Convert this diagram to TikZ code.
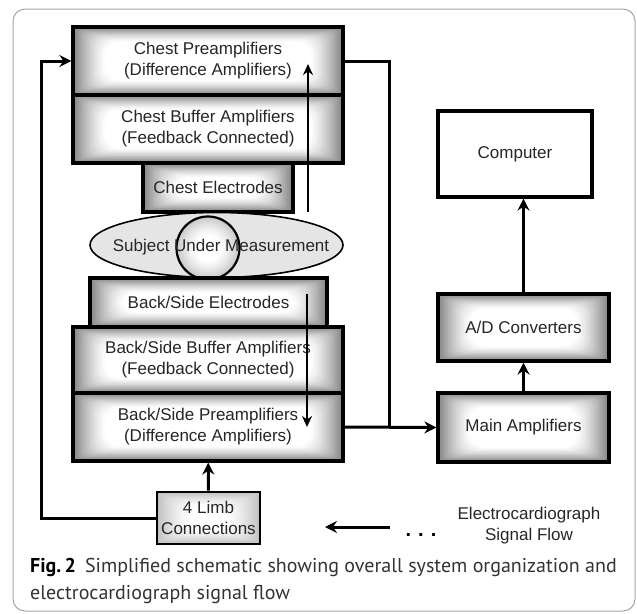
\documentclass[tikz,border=0pt]{standalone}
\usepackage{fontspec}
\setmainfont{Liberation Sans}
\newfontfamily\capfont{PT Sans}
\usepackage{xcolor}
\usetikzlibrary{shapes.geometric,arrows.meta,positioning,calc}

\tikzset{
  glowfill/.style={path picture={
    \foreach \k in {0,...,16}{
      \pgfmathsetmacro\lev{#1*(1-\k/16)^1.3}
      \pgfmathsetmacro\dx{\k*2.0}
      \pgfmathsetmacro\dy{\k*0.9}
      \pgfmathsetmacro\rc{\k*1.0}
      \fill[black!\lev!white,rounded corners=\rc pt]
        ([xshift=\dx pt,yshift=\dy pt]path picture bounding box.south west) rectangle
        ([xshift=-\dx pt,yshift=-\dy pt]path picture bounding box.north east);
    }}},
  roundglow/.style={path picture={
    \foreach \k in {0,...,12}{
      \pgfmathsetmacro\lev{#1*(1-\k/12)^1.3}
      \pgfmathsetmacro\rr{32-\k*1.6}
      \fill[black!\lev!white] (path picture bounding box.center) circle[radius=\rr pt];
    }}}
}

\begin{document}
\begin{tikzpicture}[
  x=1pt,y=-1pt,
  font=\fontsize{17}{21}\selectfont,>={Stealth[length=12pt,width=12pt,inset=4pt]},
  blk/.style={draw,line width=3.2pt,glowfill=48,align=center,text=black!85},
  wire/.style={line width=3pt},
  thinwire/.style={line width=2pt,-{Stealth[length=11pt,width=10pt,inset=3.5pt]}}
]
\useasboundingbox (0,0) rectangle (637,613);
\draw[gray!70,line width=1pt,rounded corners=12pt] (13,9) rectangle (635,611);

% chest side
\node[blk,minimum width=270pt,minimum height=68pt] (chpre) at (208,61) {Chest Preamplifiers\\(Difference Amplifiers)};
\node[blk,minimum width=270pt,minimum height=68pt] (chbuf) at (208,129) {Chest Buffer Amplifiers\\(Feedback Connected)};
\node[blk,minimum width=150pt,minimum height=49pt] (chel) at (218,187.5) {Chest Electrodes};

% subject
\node[draw,ellipse,line width=1.6pt,fill=gray!20,minimum width=253pt,minimum height=65pt] (subj) at (216.5,245) {};
\node[draw,circle,line width=2.2pt,roundglow=22,minimum size=63pt] (body) at (208,248) {};
\node[text=black!85] (subjtxt) at (221,247) {Subject Under Measurement};

% back side
\node[blk,minimum width=237pt,minimum height=49pt] (bsel) at (208.5,302.5) {Back/Side Electrodes};
\node[blk,minimum width=270pt,minimum height=66pt] (bsbuf) at (208,360) {Back/Side Buffer Amplifiers\\(Feedback Connected)};
\node[blk,minimum width=270pt,minimum height=68pt] (bspre) at (208,427) {Back/Side Preamplifiers\\(Difference Amplifiers)};
\node[blk,glowfill=24,line width=2.8pt,minimum width=103pt,minimum height=52pt] (limb) at (208.5,518) {4 Limb\\Connections};

% right column
\node[blk,minimum width=171pt,minimum height=69pt] (mainamp) at (523.5,427.5) {Main Amplifiers};
\node[blk,minimum width=171pt,minimum height=67pt] (adc) at (523.5,327.5) {A/D Converters};
\node[draw,line width=3.2pt,fill=white,text=black!85,minimum width=154pt,minimum height=86pt] (comp) at (515,154) {Computer};

% wiring
\coordinate (lftup) at (41,61);
\coordinate (rjoin) at (389,427);
\draw[wire,->] (limb.west) -| (lftup) -- (chpre.west);
\draw[wire,->] (limb) -- (bspre);
\draw[wire] (chpre.east) -| (rjoin);
\draw[wire,->] (bspre.east) -- (mainamp.west);
\draw[wire,->] (mainamp) -- (adc);
\draw[wire,->] (adc.north) -- (adc.north |- comp.south);

% signal flow inside the stacks
\coordinate (upfoot) at (308,212);
\coordinate (uptip) at (308,64);
\coordinate (dnfoot) at (307,294);
\coordinate (dntip) at (307,427);
\draw[thinwire] (upfoot) -- (uptip);
\draw[thinwire] (dnfoot) -- (dntip);

% legend
\node[text=black!85,align=center] (flowtxt) at (529,526) {Electrocardiograph\\Signal Flow};
\node[anchor=base,font=\fontsize{20}{20}\selectfont\bfseries] (dots) at (421,536) {.\hspace{7pt}.\hspace{7pt}.};
\coordinate (flowtail) at (390,527);
\coordinate (flowhead) at (325,527);
\draw[wire,->] (flowtail) -- (flowhead);

% caption
\node[anchor=north west,inner sep=0pt,align=left,text=black!80,font=\capfont\fontsize{20}{27}\selectfont] (caption) at (30,558)
  {\textbf{\color{black}Fig.\,2}\hspace{0.45em}Simplified schematic showing overall system organization and\\electrocardiograph signal flow};
\end{tikzpicture}
\end{document}
